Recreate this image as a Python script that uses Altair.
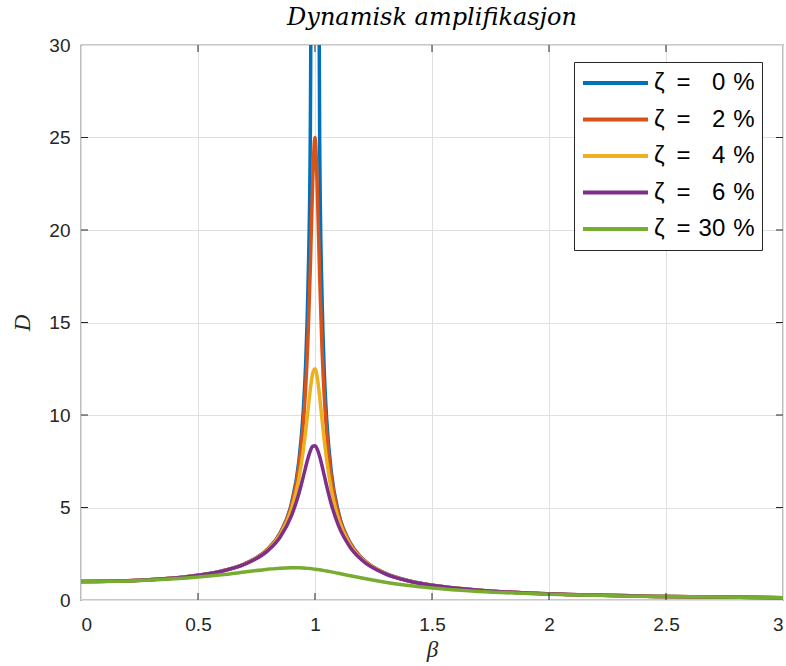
import altair as alt
import pandas as pd

beta = [0, 0.2, 0.4, 0.5, 0.6, 0.7, 0.8, 0.85, 0.9, 0.93, 0.95, 0.96, 0.97, 0.98, 0.99,
        1.0, 1.01, 1.02, 1.03, 1.04, 1.05, 1.07, 1.1, 1.15, 1.2, 1.3, 1.4, 1.5, 1.7, 2.0, 2.5, 3.0]

d_z0 = [1.0, 1.042, 1.190, 1.333, 1.5625, 1.961, 2.778, 3.604, 5.263, 7.402, 10.256, 12.755, 16.920, 25.25, 50.25,
        None, 49.75, 24.75, 16.42, 12.25, 9.756, 6.901, 4.762, 3.101, 2.273, 1.449, 1.042, 0.800, 0.529, 0.333, 0.190, 0.125]
d_z2 = [1.0, 1.0416, 1.1903, 1.3329, 1.5614, 1.9578, 2.7669, 3.5768, 5.171, 7.136, 9.556, 11.455, 14.145, 17.946, 22.56,
        25.0, 22.16, 17.416, 13.588, 10.917, 9.028, 6.619, 4.661, 3.075, 2.259, 1.445, 1.040, 0.7991, 0.5288, 0.3332, 0.1904, 0.1250]
d_z4 = [1.0, 1.0415, 1.1896, 1.3314, 1.5581, 1.9491, 2.7349, 3.500, 4.922, 6.484, 8.089, 9.112, 10.252, 11.385, 12.246,
        12.5, 12.010, 10.982, 9.755, 8.581, 7.546, 5.942, 4.392, 2.986, 2.220, 1.433, 1.0346, 0.7963, 0.5277, 0.3329, 0.1903, 0.1249]
d_z6 = [1.0, 1.0413, 1.1885, 1.3291, 1.5527, 1.9347, 2.6840, 3.382, 4.576, 5.707, 6.666, 7.176, 7.660, 8.059, 8.302,
        8.333, 8.140, 7.758, 7.255, 6.706, 6.157, 5.165, 4.032, 2.855, 2.160, 1.4136, 1.0261, 0.7918, 0.5260, 0.3323, 0.1902, 0.1249]
d_z30 = [1.0, 1.0336, 1.1447, 1.2380, 1.3618, 1.5136, 1.6667, 1.7223, 1.7469, 1.7418, 1.7293, 1.7203, 1.7094, 1.6968, 1.6826,
         1.6667, 1.6493, 1.6304, 1.6103, 1.5890, 1.5667, 1.5194, 1.4438, 1.3133, 1.1851, 0.9603, 0.7839, 0.6492, 0.4656, 0.3095, 0.1831, 0.1220]

series_labels = ["ζ\u2002=\u2004\u20070\u2004%", "ζ\u2002=\u2004\u20072\u2004%", "ζ\u2002=\u2004\u20074\u2004%",
                 "ζ\u2002=\u2004\u20076\u2004%", "ζ\u2002=\u200430\u2004%"]
series_colors = ["#0072BD", "#D95319", "#EDB120", "#7E2F8E", "#77AC30"]
x_ticks = [0, 0.5, 1, 1.5, 2, 2.5, 3]
y_ticks = [0, 5, 10, 15, 20, 25, 30]
x_inner_ticks = [0.5, 1, 1.5, 2, 2.5]
y_inner_ticks = [5, 10, 15, 20, 25]

rows = []
for i, (lab, vals) in enumerate(zip(series_labels, [d_z0, d_z2, d_z4, d_z6, d_z30])):
    for b, d in zip(beta, vals):
        if d is not None:
            rows.append({"beta": b, "D": d, "serie": lab, "ord": i})
df = pd.DataFrame(rows)

xscale = alt.Scale(domain=[0, 3], nice=False, zero=False)
yscale = alt.Scale(domain=[0, 30], nice=False)
xaxis = alt.Axis(values=x_ticks, title="β", format="~g")
yaxis = alt.Axis(values=y_ticks, title="D")

lines = alt.Chart(df).mark_line(strokeWidth=3.5, clip=True, interpolate="monotone").encode(
    x=alt.X("beta:Q", scale=xscale, axis=xaxis),
    y=alt.Y("D:Q", scale=yscale, axis=yaxis),
    color=alt.Color("serie:N", sort=series_labels,
                    scale=alt.Scale(domain=series_labels, range=series_colors),
                    legend=alt.Legend(orient="none", legendX=493, legendY=17, title=None,
                                      symbolType="stroke", symbolSize=4225, symbolStrokeWidth=4,
                                      clipHeight=28, rowPadding=8.5,
                                      labelFontSize=24, labelFont="Liberation Sans", labelColor="black",
                                      fillColor="white", strokeColor="#262626", padding=7,
                                      labelOffset=4)),
    order=alt.Order("ord:Q"),
    detail="serie:N",
)

xt = pd.DataFrame({"beta": x_inner_ticks})
yt = pd.DataFrame({"D": y_inner_ticks})
tick_color = "#262626"
xt_bottom = alt.Chart(xt).mark_rule(color=tick_color, strokeWidth=1).encode(
    x=alt.X("beta:Q", scale=xscale, axis=xaxis), y=alt.value(555), y2=alt.value(548))
xt_top = alt.Chart(xt).mark_rule(color=tick_color, strokeWidth=1).encode(
    x=alt.X("beta:Q", scale=xscale, axis=xaxis), y=alt.value(0), y2=alt.value(7))
yt_left = alt.Chart(yt).mark_rule(color=tick_color, strokeWidth=1).encode(
    y=alt.Y("D:Q", scale=yscale, axis=yaxis), x=alt.value(0), x2=alt.value(7))
yt_right = alt.Chart(yt).mark_rule(color=tick_color, strokeWidth=1).encode(
    y=alt.Y("D:Q", scale=yscale, axis=yaxis), x=alt.value(702), x2=alt.value(695))

chart = alt.layer(lines, xt_bottom, xt_top, yt_left, yt_right).properties(
    width=702, height=555,
    title=alt.TitleParams("Dynamisk amplifikasjon", font="DejaVu Serif", fontStyle="italic",
                          fontSize=24, fontWeight="normal", offset=6, anchor="middle", color="black"),
    autosize=alt.AutoSizeParams(type="none"),
    padding={"left": 81, "top": 45, "right": 3, "bottom": 66},
).configure_view(
    stroke="#262626", strokeWidth=1.2
).configure_axis(
    labelFont="Liberation Sans", labelFontSize=19, labelColor="#262626",
    titleFont="Liberation Serif", titleFontStyle="italic", titleFontWeight="normal",
    titleFontSize=23, titleColor="#262626",
    grid=True, gridColor="#e0e0e0", gridWidth=1,
    domain=False, ticks=False,
).configure_axisX(labelPadding=15, titlePadding=4).configure_axisY(labelPadding=11, titlePadding=14)

chart.save("out.html", embed_options={"renderer": "svg", "actions": False})
